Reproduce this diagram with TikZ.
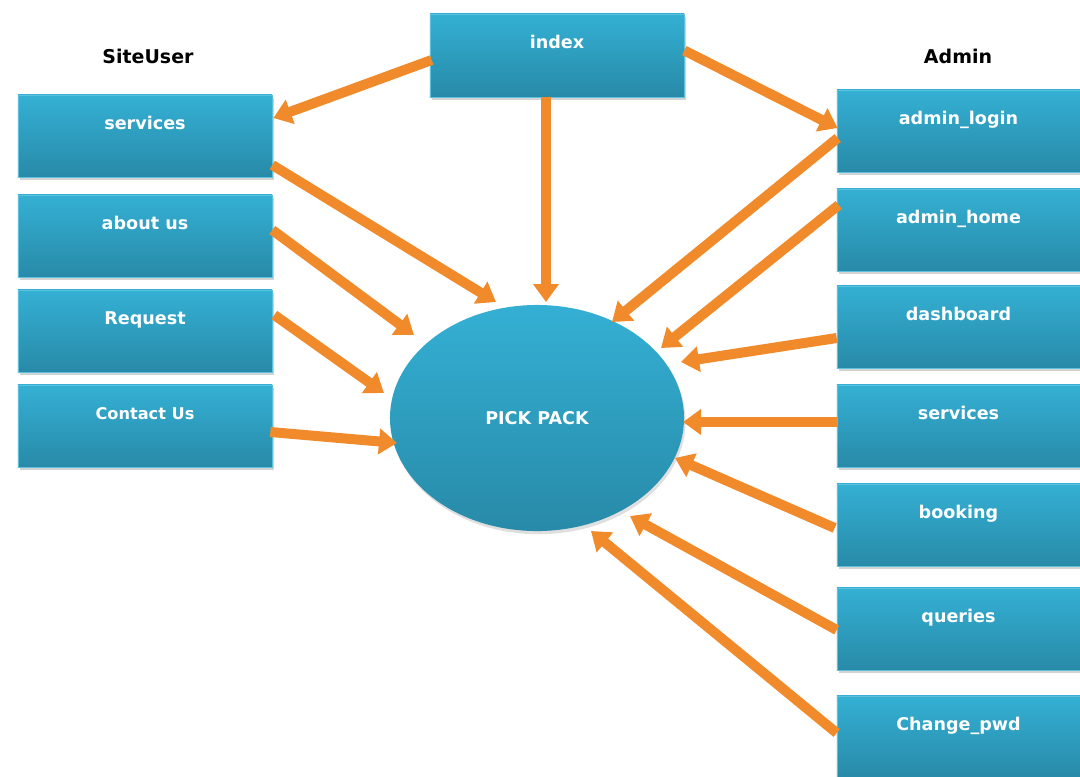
\documentclass[tikz,border=0pt]{standalone}
\usepackage{fontspec}
\setmainfont{DejaVu Sans}
\usetikzlibrary{shapes.geometric,arrows.meta,calc,shadows}
\definecolor{boxtop}{RGB}{52,176,212}
\definecolor{boxbot}{RGB}{40,138,168}
\definecolor{arr}{RGB}{240,138,42}
\tikzset{
  box/.style={rectangle, inner sep=0pt, minimum width=6.35cm, minimum height=2.05cm,
    top color=boxtop, bottom color=boxbot, draw=boxtop!80!white, line width=0.4pt,
    text=white, font=\bfseries\fontsize{12.5}{14}\selectfont,
    text height=0.85cm, text depth=1.2cm,
    drop shadow={shadow xshift=0.4mm, shadow yshift=-0.8mm, opacity=0.35}},
  rbox/.style={box, minimum width=6.075cm},
  hdr/.style={font=\bfseries\fontsize{13.5}{15}\selectfont, text=black},
  flow/.style={draw=arr, line width=0.25cm, -{Triangle[width=0.62cm,length=0.45cm]}},
}
\begin{document}
\begin{tikzpicture}[x=0.025cm,y=-0.025cm]
\useasboundingbox (0,0) rectangle (1080,777);
% headers
\node[hdr] (hsu) at (148,56) {SiteUser};
\node[hdr] (had) at (958,56) {Admin};
% top
\node[box, minimum width=6.35cm, minimum height=2.075cm] (index) at (557,55.5) {index};
% left column
\node[box] (lserv) at (145,136) {services};
\node[box] (about) at (145,236) {about us};
\node[box] (req) at (145,331) {Request};
\node[box, font=\bfseries\fontsize{11.5}{13}\selectfont] (contact) at (145,426) {Contact Us\hspace{1.15cm}};
% right column
\node[rbox] (alog) at (958.5,131) {admin\_login};
\node[rbox] (ahome) at (958.5,230) {admin\_home};
\node[rbox] (dash) at (958.5,327) {dashboard};
\node[rbox] (rserv) at (958.5,426) {services};
\node[rbox] (book) at (958.5,525) {booking};
\node[rbox] (quer) at (958.5,629) {queries};
\node[rbox, minimum height=2.0cm] (cpwd) at (958.5,737) {Change\_pwd};
% centre
\node[ellipse, inner sep=0pt, minimum width=7.35cm, minimum height=5.65cm,
  top color=boxtop, bottom color=boxbot, text=white,
  font=\bfseries\fontsize{12.5}{14}\selectfont,
  drop shadow={shadow xshift=0.4mm, shadow yshift=-0.8mm, opacity=0.25}] (pp) at (537,418) {PICK PACK};
% connectors
\draw[flow] ($(index.west)+(2,4.5)$) -- ($(lserv.east)+(1,-18)$);
\draw[flow] ($(index.east)+(0,-5)$) -- ($(alog.west)+(1,-3)$);
\draw[flow] ($(index.south)+(-11,0)$) -- ($(pp.center)+(9,-116)$);
\draw[flow] ($(lserv.east)+(0,29)$) -- ($(pp.center)+(-41,-116)$);
\draw[flow] ($(about.east)+(0,-6)$) -- ($(pp.center)+(-123,-83)$);
\draw[flow] ($(req.east)+(2,-16)$) -- ($(pp.center)+(-153,-25)$);
\draw[flow] ($(contact.east)+(-2,6)$) -- ($(pp.center)+(-140,25)$);
\draw[flow] ($(alog.west)+(1,7)$) -- ($(pp.center)+(75,-96)$);
\draw[flow] ($(ahome.west)+(2,-25)$) -- ($(pp.center)+(124,-70)$);
\draw[flow] ($(dash.west)+(0,11)$) -- ($(pp.center)+(144,-56)$);
\draw[flow] ($(rserv.west)+(0,-4)$) -- ($(pp.center)+(146,4)$);
\draw[flow] ($(book.west)+(-2,3)$) -- ($(pp.center)+(138,40)$);
\draw[flow] ($(quer.west)+(0,1)$) -- ($(pp.center)+(93,98)$);
\draw[flow] ($(cpwd.west)+(0,-4)$) -- ($(pp.center)+(54,113)$);
\end{tikzpicture}
\end{document}
